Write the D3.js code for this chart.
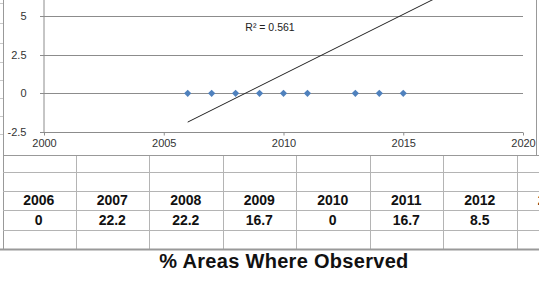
<!DOCTYPE html>
<html>
<head>
<meta charset="utf-8">
<script src="https://cdn.jsdelivr.net/npm/d3@7"></script>
<style>
  body { margin: 0; background: #fff; }
  svg { display: block; font-family: "Liberation Sans", Arial, sans-serif; }
</style>
</head>
<body>
<div id="chart"></div>
<script>
// scatter points (all sit on zero)
var pointYears = [2006, 2007, 2008, 2009, 2010, 2011, 2013, 2014, 2015];
var pointValues = [0, 0, 0, 0, 0, 0, 0, 0, 0];

// linear trend line ends, as drawn by excel
var trendYears = [2006, 2017];
var trendValues = [-1.86, 6.65];
var trendLabel = "R\u00b2 = 0.561";

// axis ticks (the 7.5 gridline sits above the visible crop)
var xTicks = [2000, 2005, 2010, 2015, 2020];
var yTicks = [-2.5, 0, 2.5, 5];
var yGrid = [0, 2.5, 5, 7.5];

// spreadsheet table under the chart
var tableYears = ["2006", "2007", "2008", "2009", "2010", "2011", "2012", "2013"];
var tableValues = ["0", "22.2", "22.2", "16.7", "0", "16.7", "8.5", "11.1"];
var tableTitle = "% Areas Where Observed";

var width = 539, height = 281;

var svg = d3.select("#chart").append("svg")
    .attr("width", width)
    .attr("height", height);

var x = d3.scaleLinear().domain([2000, 2020]).range([44, 523]);
var y = d3.scaleLinear().domain([-2.5, 7.5]).range([132, -22.7]);

//spreadsheet row lines peeking out on the left
var rowTicks = [3, 23, 43, 62, 80, 98, 116, 134];
svg.selectAll("line.rowtick").data(rowTicks).enter().append("line")
    .attr("class", "rowtick")
    .attr("x1", 0).attr("x2", 3)
    .attr("y1", function(d){ return d + 0.5; })
    .attr("y2", function(d){ return d + 0.5; })
    .attr("stroke", "#c8c8c8");

// gridlines
svg.selectAll("line.grid").data(yGrid).enter().append("line")
    .attr("class", "grid")
    .attr("x1", x(2000) - 4).attr("x2", x(2020))
    .attr("y1", function(d){ return Math.round(y(d)) + 0.5; })
    .attr("y2", function(d){ return Math.round(y(d)) + 0.5; })
    .attr("stroke", "#8c8c8c");

// x axis at the bottom of the plot
var xAxis = d3.axisBottom(x).tickValues(xTicks).tickSize(3).tickFormat(d3.format("d"));
var gx = svg.append("g")
    .attr("transform", "translate(0," + (Math.round(y(-2.5)) + 0.5) + ")")
    .call(xAxis);
gx.select(".domain").attr("stroke", "#8c8c8c").attr("d", "M" + (x(2000) - 4) + ",0H" + x(2020));
gx.selectAll(".tick line").attr("stroke", "#8c8c8c");
gx.selectAll(".tick text")
    .attr("y", 7)
    .attr("fill", "#333")
    .style("font-size", "11px")
    .style("font-family", "Liberation Sans, Arial, sans-serif");

// y axis
var yAxis = d3.axisLeft(y).tickValues(yTicks).tickSize(0).tickPadding(0)
    .tickFormat(function(d){ return String(d); });
var gy = svg.append("g")
    .attr("transform", "translate(" + (Math.round(x(2000)) - 0.5) + ",0)")
    .call(yAxis);
gy.select(".domain").attr("stroke", "#8c8c8c");
gy.selectAll(".tick text")
    .attr("x", -17)
    .attr("fill", "#333")
    .style("font-size", "11px")
    .style("font-family", "Liberation Sans, Arial, sans-serif");

// trend line
var line = d3.line()
    .x(function(d){ return x(d[0]); })
    .y(function(d){ return y(d[1]); });
svg.append("path")
    .datum(d3.zip(trendYears, trendValues))
    .attr("d", line)
    .attr("fill", "none")
    .attr("stroke", "#222")
    .attr("stroke-width", 1);

svg.append("text")
    .attr("x", 270)
    .attr("y", 31)
    .attr("text-anchor", "middle")
    .attr("fill", "#222")
    .style("font-size", "10.5px")
    .text(trendLabel);

// markers
svg.selectAll("path.pt").data(d3.zip(pointYears, pointValues)).enter().append("path")
    .attr("class", "pt")
    .attr("d", d3.symbol().type(d3.symbolSquare).size(26))
    .attr("transform", function(d){ return "translate(" + x(d[0]) + "," + y(d[1]) + ") rotate(45)"; })
    .attr("fill", "#4f81bd");

// chart frame
svg.append("line").attr("x1", 3.5).attr("x2", 3.5).attr("y1", 0).attr("y2", 249)
    .attr("stroke", "#999");
svg.append("line").attr("x1", 536.5).attr("x2", 536.5).attr("y1", 0).attr("y2", 155)
    .attr("stroke", "#999");
svg.append("line").attr("x1", 3).attr("x2", width).attr("y1", 155.5).attr("y2", 155.5)
    .attr("stroke", "#999");

// table
var col = d3.scaleBand().domain(tableYears).range([2, 2 + 73.5 * tableYears.length]);
var rowLines = [172, 191, 210, 230];

svg.selectAll("line.hrow").data(rowLines).enter().append("line")
    .attr("class", "hrow")
    .attr("x1", 3).attr("x2", width)
    .attr("y1", function(d){ return d + 0.5; })
    .attr("y2", function(d){ return d + 0.5; })
    .attr("stroke", "#b4b4b4");

svg.selectAll("line.vcol").data(tableYears.slice(1)).enter().append("line")
    .attr("class", "vcol")
    .attr("x1", function(d){ return Math.round(col(d)) + 0.5; })
    .attr("x2", function(d){ return Math.round(col(d)) + 0.5; })
    .attr("y1", 156).attr("y2", 249)
    .attr("stroke", "#b4b4b4");

svg.selectAll("text.yr").data(tableYears).enter().append("text")
    .attr("class", "yr")
    .attr("x", function(d){ return col(d) + col.bandwidth() / 2; })
    .attr("y", 205)
    .attr("text-anchor", "middle")
    .style("font-size", "14px")
    .style("font-weight", "bold")
    .attr("fill", "#111")
    .text(function(d){ return d; });

svg.selectAll("text.val").data(d3.zip(tableYears, tableValues)).enter().append("text")
    .attr("class", "val")
    .attr("x", function(d){ return col(d[0]) + col.bandwidth() / 2; })
    .attr("y", 225)
    .attr("text-anchor", "middle")
    .style("font-size", "14px")
    .style("font-weight", "bold")
    .attr("fill", "#111")
    .text(function(d){ return d[1]; });

// heavy bottom border of the table
svg.append("line").attr("x1", 0).attr("x2", width).attr("y1", 249.5).attr("y2", 249.5)
    .attr("stroke", "#999").attr("stroke-width", 2);

svg.append("text")
    .attr("x", 284)
    .attr("y", 268)
    .attr("text-anchor", "middle")
    .style("font-size", "20px")
    .style("font-weight", "bold")
    .style("letter-spacing", "0.3px")
    .attr("fill", "#111")
    .text(tableTitle);
</script>
</body>
</html>
